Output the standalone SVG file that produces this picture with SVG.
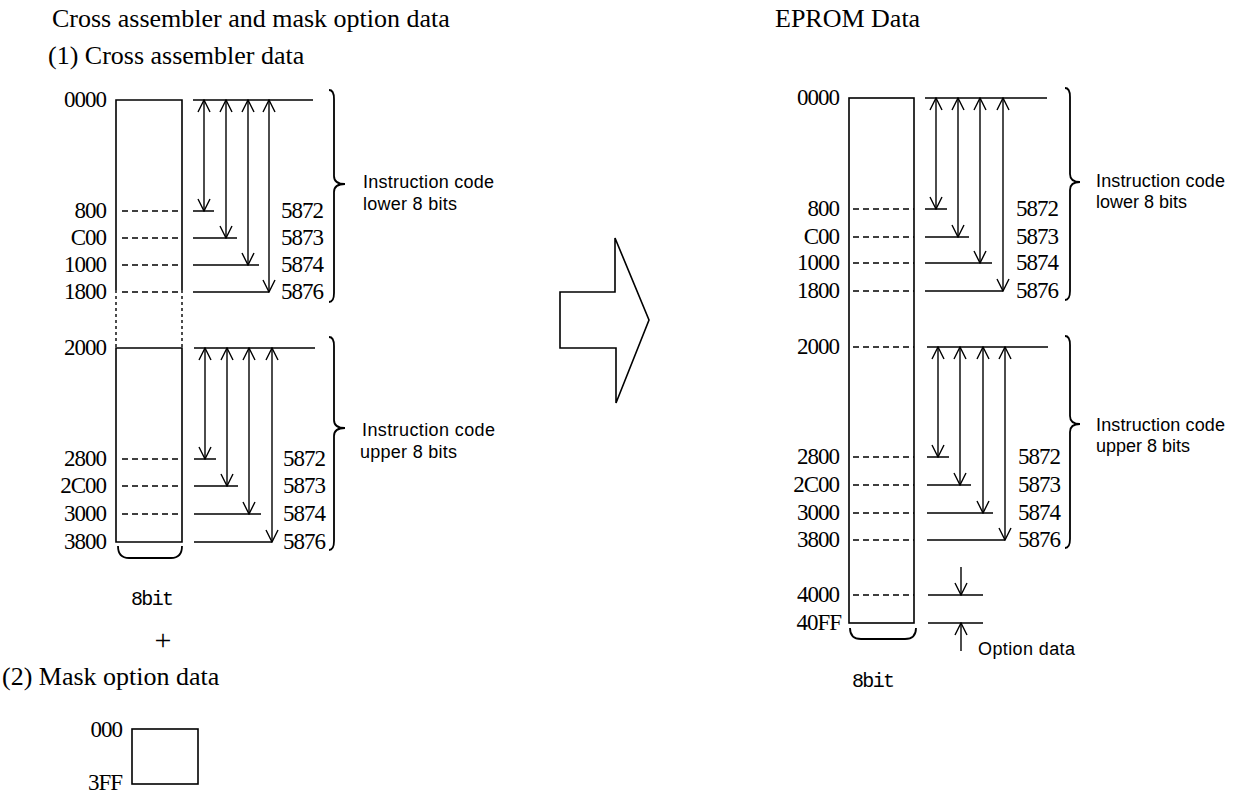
<svg xmlns="http://www.w3.org/2000/svg" width="1242" height="793" viewBox="0 0 1242 793">
<style>
.t{font-family:"Liberation Serif","Times New Roman",serif;font-size:26px;fill:#000}
.n{font-family:"Liberation Serif","Times New Roman",serif;font-size:23px;letter-spacing:-1px;fill:#000}
.ne{font-family:"Liberation Serif","Times New Roman",serif;font-size:23px;letter-spacing:-1px;fill:#000;text-anchor:end}
.s{font-family:"Liberation Sans",Arial,sans-serif;font-size:18px;fill:#000}
.m{font-family:"Liberation Mono","Courier New",monospace;font-size:20px;fill:#000}
.ln{stroke:#000;stroke-width:1.6;fill:none}
.br{stroke:#000;stroke-width:1.8;fill:none}
.d{stroke:#000;stroke-width:1.4;stroke-dasharray:6 4;fill:none}
.dv{stroke:#000;stroke-width:1.4;stroke-dasharray:3 3;fill:none}
.a{stroke:#000;stroke-width:1.4;fill:none;marker-start:url(#v);marker-end:url(#v)}
.a1{stroke:#000;stroke-width:1.4;fill:none;marker-end:url(#v)}
</style>
<defs>
<marker id="v" viewBox="0 0 14 14" refX="13" refY="7" markerWidth="14" markerHeight="14" markerUnits="userSpaceOnUse" orient="auto-start-reverse">
<path d="M1,1 L13,7 L1,13" fill="none" stroke="#000" stroke-width="1.4"/>
</marker>
</defs>
<rect width="1242" height="793" fill="#fff"/>

<g id="titles">
<text class="t" x="52" y="27">Cross assembler and mask option data</text>
<text class="t" x="48" y="64">(1) Cross assembler data</text>
<text class="t" x="775" y="27">EPROM Data</text>
<text class="t" x="2" y="685">(2) Mask option data</text>
</g>

<g id="cross-data-lower">
<path class="ln" d="M116,290 V100 H182 V290"/>
<path class="dv" d="M116,290 V348 M182,290 V348"/>
<path class="d" d="M122,211 H182 M122,238 H182 M122,265 H182 M122,292 H182"/>
<text class="ne" x="106" y="107">0000</text>
<text class="ne" x="106" y="218">800</text>
<text class="ne" x="106" y="245">C00</text>
<text class="ne" x="106" y="272">1000</text>
<text class="ne" x="106" y="299">1800</text>
</g>

<g id="cross-data-upper">
<path class="ln" d="M116,348 H182 V542 H116 Z"/>
<path class="d" d="M122,459 H182 M122,486 H182 M122,514 H182"/>
<text class="ne" x="106" y="355">2000</text>
<text class="ne" x="106" y="466">2800</text>
<text class="ne" x="106" y="493">2C00</text>
<text class="ne" x="106" y="521">3000</text>
<text class="ne" x="106" y="549">3800</text>
<path class="br" d="M118,546 Q118,558 129,558 H171 Q182,558 182,546"/>
<text class="m" x="131" y="605" textLength="43">8bit</text>
</g>

<g id="plus">
<text x="163" y="650" text-anchor="middle" style="font-family:'Liberation Serif',serif;font-size:30px">+</text>
</g>

<g id="mask-option">
<rect class="ln" x="132" y="729" width="66" height="55"/>
<text class="ne" x="122" y="737">000</text>
<text class="ne" x="122" y="790">3FF</text>
</g>

<g id="big-arrow">
<polygon class="ln" points="560,292 615,292 615,238 649,320 616,403 616,348 560,348"/>
</g>

<g id="eprom-data">
<rect class="ln" x="849" y="98" width="65" height="525"/>
<path class="d" d="M853,209 H914 M853,237 H914 M853,263 H914 M853,291 H914 M853,347 H914 M853,457 H914 M853,485 H914 M853,513 H914 M853,540 H914 M853,595 H914"/>
<text class="ne" x="839" y="105">0000</text>
<text class="ne" x="839" y="216">800</text>
<text class="ne" x="839" y="244">C00</text>
<text class="ne" x="839" y="270">1000</text>
<text class="ne" x="839" y="298">1800</text>
<text class="ne" x="839" y="354">2000</text>
<text class="ne" x="839" y="464">2800</text>
<text class="ne" x="839" y="492">2C00</text>
<text class="ne" x="839" y="520">3000</text>
<text class="ne" x="839" y="547">3800</text>
<text class="ne" x="839" y="602">4000</text>
<text class="ne" x="841" y="630">40FF</text>
<path class="br" d="M850,628 Q850,639 861,639 H905 Q916,639 916,628"/>
<text class="m" x="852" y="687" textLength="43">8bit</text>
</g>

<g id="left-lower-ruler">
<path class="ln" d="M193,100 H313 M193,211 H214 M193,238 H237 M193,265 H259 M193,292 H269"/>
<text class="n" x="281" y="218">5872</text>
<text class="n" x="281" y="245">5873</text>
<text class="n" x="281" y="272">5874</text>
<text class="n" x="281" y="299">5876</text>
<path class="br" d="M329,90 Q334,90 334,99 V176 Q334,184 345,184 Q334,184 334,192 V293 Q334,302 329,302"/>
<text class="s" x="363" y="188" textLength="131">Instruction code</text>
<text class="s" x="363" y="210" textLength="94">lower 8 bits</text>
</g>

<g id="left-upper-ruler">
<path class="ln" d="M194,348 H315 M194,459 H216 M194,486 H238 M194,514 H261 M194,542 H272"/>
<text class="n" x="283" y="466">5872</text>
<text class="n" x="283" y="493">5873</text>
<text class="n" x="283" y="521">5874</text>
<text class="n" x="283" y="549">5876</text>
<path class="br" d="M329,337 Q334,337 334,346 V420 Q334,428 345,428 Q334,428 334,436 V541 Q334,550 329,550"/>
<text class="s" x="362" y="436" textLength="133">Instruction code</text>
<text class="s" x="360" y="458" textLength="97">upper 8 bits</text>
</g>

<g id="right-lower-ruler">
<path class="ln" d="M925,98 H1047 M925,209 H947 M925,237 H969 M925,263 H992 M925,291 H1003"/>
<text class="n" x="1016" y="216">5872</text>
<text class="n" x="1016" y="244">5873</text>
<text class="n" x="1016" y="270">5874</text>
<text class="n" x="1016" y="298">5876</text>
<path class="br" d="M1065,88 Q1070,88 1070,97 V174 Q1070,182 1080,182 Q1070,182 1070,190 V291 Q1070,300 1065,300"/>
<text class="s" x="1096" y="187" textLength="129">Instruction code</text>
<text class="s" x="1096" y="208" textLength="91">lower 8 bits</text>
</g>

<g id="right-upper-ruler">
<path class="ln" d="M927,347 H1048 M927,457 H949 M927,485 H971 M927,513 H993 M927,540 H1005"/>
<text class="n" x="1018" y="464">5872</text>
<text class="n" x="1018" y="492">5873</text>
<text class="n" x="1018" y="520">5874</text>
<text class="n" x="1018" y="547">5876</text>
<path class="br" d="M1065,336 Q1070,336 1070,345 V416 Q1070,424 1080,424 Q1070,424 1070,432 V539 Q1070,548 1065,548"/>
<text class="s" x="1096" y="431" textLength="129">Instruction code</text>
<text class="s" x="1096" y="452" textLength="94">upper 8 bits</text>
</g>

<g id="option-data">
<path class="ln" d="M928,595 H983 M928,623 H983"/>
<text class="s" x="978" y="655" textLength="97">Option data</text>
</g>

<g id="connectors">
<line class="a" x1="204" y1="211" x2="204" y2="100"/>
<line class="a" x1="226" y1="238" x2="226" y2="100"/>
<line class="a" x1="248" y1="265" x2="248" y2="100"/>
<line class="a" x1="269" y1="292" x2="269" y2="100"/>
<line class="a" x1="205" y1="459" x2="205" y2="348"/>
<line class="a" x1="227" y1="486" x2="227" y2="348"/>
<line class="a" x1="249" y1="514" x2="249" y2="348"/>
<line class="a" x1="272" y1="542" x2="272" y2="348"/>
<line class="a" x1="936" y1="209" x2="936" y2="98"/>
<line class="a" x1="958" y1="237" x2="958" y2="98"/>
<line class="a" x1="980" y1="263" x2="980" y2="98"/>
<line class="a" x1="1003" y1="291" x2="1003" y2="98"/>
<line class="a" x1="938" y1="457" x2="938" y2="347"/>
<line class="a" x1="960" y1="485" x2="960" y2="347"/>
<line class="a" x1="983" y1="513" x2="983" y2="347"/>
<line class="a" x1="1005" y1="540" x2="1005" y2="347"/>
<line class="a1" x1="961" y1="567" x2="961" y2="595"/>
<line class="a1" x1="961" y1="651" x2="961" y2="623"/>
</g>
</svg>
